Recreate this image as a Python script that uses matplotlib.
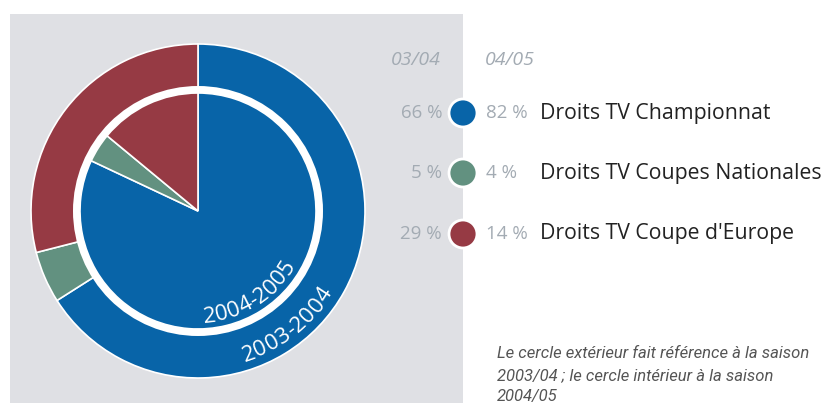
import numpy as np
import matplotlib.pyplot as plt
from matplotlib.patches import Circle, Rectangle

plt.rcParams['font.family'] = ['Open Sans', 'DejaVu Sans']

# data
categories = ["Droits TV Championnat", "Droits TV Coupes Nationales", "Droits TV Coupe d'Europe"]
share_0304 = [66, 5, 29]   # outer ring
share_0405 = [82, 4, 14]   # inner pie
seasons = ["03/04", "04/05"]
colors = ["#0864a8", "#629180", "#963a44"]

W, H = 830, 403
fig = plt.figure(figsize=(W / 100, H / 100), dpi=100)
ax = fig.add_axes([0, 0, 1, 1])

def Y(y):  # image row -> data y
    return H - y

# grey panel
ax.add_patch(Rectangle((10, 0), 453, Y(14), facecolor="#dfe0e4", edgecolor="none", zorder=0))

cx, cy = 198, Y(211)
ax.pie(share_0304, colors=colors, radius=167, center=(cx, cy), startangle=90, counterclock=False,
       wedgeprops=dict(edgecolor="white", linewidth=1.2), frame=True)
ax.add_patch(Circle((cx, cy), 125, facecolor="white", edgecolor="none", zorder=3))
wedges, _ = ax.pie(share_0405, colors=colors, radius=118, center=(cx, cy), startangle=90, counterclock=False,
                   wedgeprops=dict(edgecolor="white", linewidth=1.2), frame=True)
for w in wedges:
    w.set_zorder(4)

# curved labels along the rings
def arc_text(s, r, a0, a1, size):
    widths = [0.5 if ch == "-" else 1.0 for ch in s]
    tot = sum(widths)
    pos = 0
    for ch, w in zip(s, widths):
        a = np.radians(a0 + (a1 - a0) * (pos + w / 2) / tot)
        pos += w
        ax.text(cx + r * np.cos(a), cy + r * np.sin(a), ch, color="white", fontsize=size,
                rotation=np.degrees(a) + 90, rotation_mode="anchor", ha="center", va="center", zorder=6)

arc_text("2004-2005", 106, -87, -29, 16)
arc_text("2003-2004", 152, -73, -31, 16)

ax.set_xlim(0, W)
ax.set_ylim(0, H)
ax.set_aspect("auto")
ax.axis("off")

# legend
grey = "#a3abb3"
ax.text(416, Y(60), seasons[0], color=grey, fontsize=14, style="italic", ha="center", va="center")
ax.text(510, Y(60), seasons[1], color=grey, fontsize=14, style="italic", ha="center", va="center")
rows = [113, 173, 234]
for yy, c, a, b, lab in zip(rows, colors, share_0304, share_0405, categories):
    ax.add_patch(Circle((463, Y(yy)), 14, facecolor=c, edgecolor="white", linewidth=2, zorder=5))
    ax.text(442, Y(yy), "%d %%" % a, color=grey, fontsize=13.5, ha="right", va="center")
    ax.text(486, Y(yy), "%d %%" % b, color=grey, fontsize=13.5, ha="left", va="center")
    ax.text(540, Y(yy), lab, color="#222222", fontsize=15.3, ha="left", va="center")

ax.text(497, Y(346), "Le cercle extérieur fait référence à la saison\n2003/04 ; le cercle intérieur à la saison\n2004/05",
        color="#555555", fontsize=12, style="italic", family=["Roboto", "DejaVu Sans"],
        ha="left", va="top", linespacing=1.55)

fig.savefig("out.png", dpi=100)
